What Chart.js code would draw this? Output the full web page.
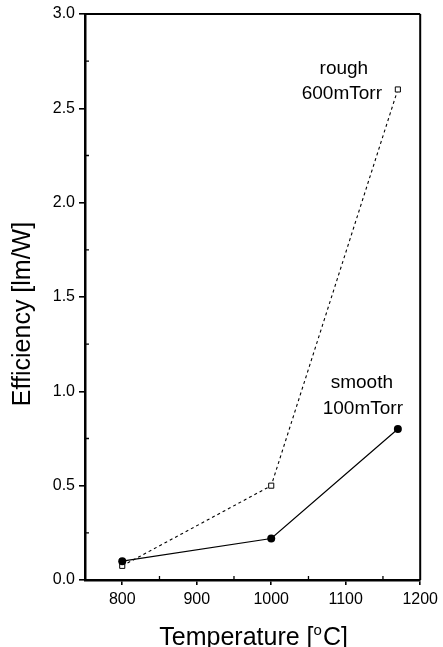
<!DOCTYPE html>
<html>
<head>
<meta charset="utf-8">
<script src="https://cdn.jsdelivr.net/npm/chart.js@4"></script>
<style>
  html, body { margin: 0; padding: 0; background: #fff; }
  #wrap { width: 443px; height: 647px; }
</style>
</head>
<body>
<div id="wrap"><canvas id="c" width="443" height="647"></canvas></div>
<script>
// ---- data ----
const temperatures = [800, 1000, 1170];
const roughValues = [0.075, 0.50, 2.60];
const smoothValues = [0.10, 0.22, 0.80];
const roughLabel = ['rough', '600mTorr'];
const smoothLabel = ['smooth', '100mTorr'];
const xTicks = [800, 900, 1000, 1100, 1200];
const yTicks = [0.0, 0.5, 1.0, 1.5, 2.0, 2.5, 3.0];
const xMinorTicks = [850, 950, 1050, 1150];
const yMinorTicks = [0.25, 0.75, 1.25, 1.75, 2.25, 2.75];
const xTitle = ['Temperature [', 'o', 'C]'];
const yTitle = 'Efficiency [lm/W]';

const FONT = "'Liberation Sans', Arial, Helvetica, sans-serif";

const toPoints = (xs, ys) => xs.map((x, i) => ({ x: x, y: ys[i] }));

const decor = {
  id: 'decor',
  afterDraw(chart) {
    const { ctx, chartArea: a, scales } = chart;
    const xs = scales.x, ys = scales.y;
    ctx.save();
    ctx.strokeStyle = '#000';
    // frame top & right
    ctx.lineWidth = 2;
    ctx.beginPath();
    ctx.moveTo(a.left, a.top); ctx.lineTo(a.right, a.top);
    ctx.moveTo(a.right, a.top); ctx.lineTo(a.right, a.bottom);
    ctx.stroke();
    // minor ticks (inside)
    ctx.lineWidth = 1.3;
    ctx.beginPath();
    yMinorTicks.forEach(v => {
      const p = ys.getPixelForValue(v);
      ctx.moveTo(a.left, p); ctx.lineTo(a.left + 4, p);
    });
    xMinorTicks.forEach(v => {
      const p = xs.getPixelForValue(v);
      ctx.moveTo(p, a.bottom); ctx.lineTo(p, a.bottom - 4);
    });
    ctx.stroke();

    // annotations
    ctx.fillStyle = '#000';
    ctx.font = '19px ' + FONT;
    ctx.textAlign = 'center';
    ctx.textBaseline = 'middle';
    const rx = xs.getPixelForValue(temperatures[2]);
    const ry = ys.getPixelForValue(roughValues[2]);
    ctx.fillText(roughLabel[0], rx - 54, ry - 21);
    ctx.fillText(roughLabel[1], rx - 56, ry + 4);
    const sx = xs.getPixelForValue(temperatures[2]);
    const sy = ys.getPixelForValue(smoothValues[2]);
    ctx.fillText(smoothLabel[0], sx - 36, sy - 46);
    ctx.fillText(smoothLabel[1], sx - 35, sy - 20);

    // x title with superscript
    ctx.font = '25px ' + FONT;
    ctx.textBaseline = 'alphabetic';
    ctx.textAlign = 'left';
    const w1 = ctx.measureText(xTitle[0]).width;
    ctx.font = '15px ' + FONT;
    const w2 = ctx.measureText(xTitle[1]).width;
    ctx.font = '25px ' + FONT;
    const w3 = ctx.measureText(xTitle[2]).width;
    const total = w1 + w2 + 1 + w3;
    let x0 = (a.left + a.right) / 2 - total / 2 + 1;
    const base = 645;
    ctx.fillText(xTitle[0], x0, base);
    ctx.font = '15px ' + FONT;
    ctx.fillText(xTitle[1], x0 + w1, base - 10);
    ctx.font = '25px ' + FONT;
    ctx.fillText(xTitle[2], x0 + w1 + w2 + 1, base);

    // y title
    ctx.translate(30, 314);
    ctx.rotate(-Math.PI / 2);
    ctx.textAlign = 'center';
    ctx.textBaseline = 'alphabetic';
    ctx.font = '25px ' + FONT;
    ctx.fillText(yTitle, 0, 0);
    ctx.restore();
  }
};

new Chart(document.getElementById('c'), {
  type: 'scatter',
  data: {
    datasets: [
      {
        label: 'smooth 100mTorr',
        data: toPoints(temperatures, smoothValues),
        showLine: true,
        borderColor: '#000',
        borderWidth: 1.2,
        pointStyle: 'circle',
        pointRadius: 4,
        pointBackgroundColor: '#000',
        pointBorderColor: '#000',
        pointBorderWidth: 0,
        order: 0
      },
      {
        label: 'rough 600mTorr',
        data: toPoints(temperatures, roughValues),
        showLine: true,
        borderColor: '#000',
        borderWidth: 1.1,
        borderDash: [3, 3],
        pointStyle: 'rect',
        pointRadius: 3.6,
        pointBackgroundColor: '#fff',
        pointBorderColor: '#000',
        pointBorderWidth: 1,
        order: 1
      }
    ]
  },
  options: {
    responsive: false,
    animation: false,
    devicePixelRatio: 1,
    layout: { padding: { top: 14, right: 19, left: 0, bottom: 0 } },
    plugins: { legend: { display: false }, tooltip: { enabled: false } },
    scales: {
      x: {
        type: 'linear',
        min: 750,
        max: 1200,
        afterBuildTicks: s => { s.ticks = xTicks.map(v => ({ value: v })); },
        afterFit: s => { s.height = 67; },
        ticks: {
          color: '#000',
          font: { family: FONT, size: 16 },
          padding: 5,
          maxRotation: 0,
          callback: v => String(v)
        },
        grid: { display: true, drawOnChartArea: false, drawTicks: true, tickLength: 5, color: '#000', lineWidth: 1.6 },
        border: { display: true, color: '#000', width: 2.5 },
        title: { display: false }
      },
      y: {
        type: 'linear',
        min: 0,
        max: 3,
        afterBuildTicks: s => { s.ticks = yTicks.map(v => ({ value: v })); },
        afterFit: s => { s.width = 85; },
        ticks: {
          color: '#000',
          font: { family: FONT, size: 16 },
          padding: 4,
          callback: v => Number(v).toFixed(1)
        },
        grid: { display: true, drawOnChartArea: false, drawTicks: true, tickLength: 6, color: '#000', lineWidth: 1.6 },
        border: { display: true, color: '#000', width: 2.5 },
        title: { display: false }
      }
    }
  },
  plugins: [decor]
});
</script>
</body>
</html>
